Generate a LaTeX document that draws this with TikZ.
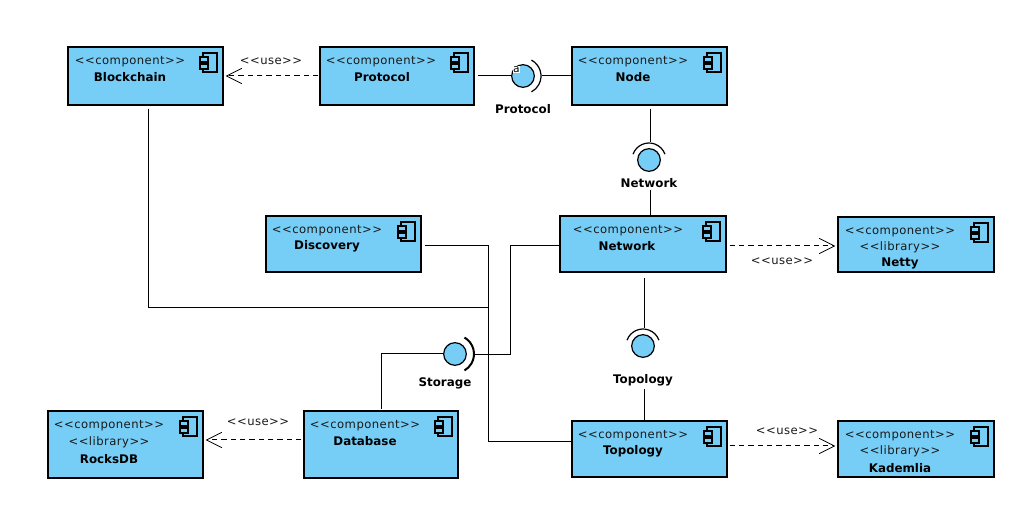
\documentclass[tikz,border=0pt]{standalone}
\usepackage{fontspec}
\setmainfont{DejaVu Sans}
\newfontfamily\stereofont[LetterSpace=4]{DejaVu Sans}
\usetikzlibrary{arrows.meta,calc}
\definecolor{compfill}{HTML}{76CDF6}
\newcommand\compbox[5]{%
  \node[compbox,minimum width={(#4-#2)*0.75pt},minimum height={(#5-#3)*0.75pt}] (#1) at ({(#2+#4)/2},{(#3+#5)/2}) {};
  \draw[line width=0.8pt] (#4-20,#3+6) rectangle (#4-6,#3+25);
  \draw[line width=0.8pt,fill=compfill] (#4-23,#3+10) rectangle (#4-15,#3+15);
  \draw[line width=0.8pt,fill=compfill] (#4-23,#3+17) rectangle (#4-15,#3+22);
}
\tikzset{
  x=0.75pt,y=-0.75pt,
  compbox/.style={draw=black,line width=0.9pt,fill=compfill,inner sep=0pt},
  stereo/.style={font=\stereofont\fontsize{8.7pt}{10pt}\selectfont,inner sep=0pt,text=black!90,yshift=-1pt},
  cname/.style={font=\fontsize{8.9pt}{10pt}\selectfont\bfseries,inner sep=0pt,yshift=-0.6pt},
  iface/.style={circle,draw=black,line width=0.9pt,fill=compfill,minimum size=17pt,inner sep=0pt},
  conn/.style={draw=black,line width=0.75pt},
  dep/.style={draw=black,line width=0.75pt,dash pattern=on 4pt off 3pt,-{Straight Barb[length=11.5pt,width=11.5pt,line width=0.6pt]}},
  socket/.style={draw=black,line width=0.9pt},
}
\begin{document}
\begin{tikzpicture}
\useasboundingbox (0,0) rectangle (1029,516);
\compbox{blockchain}{68}{47}{223}{105}
\compbox{protocol}{320}{47}{474}{105}
\compbox{nodeb}{572}{47}{727}{105}
\compbox{discovery}{266}{216}{421}{272}
\compbox{network}{560}{216}{726}{272}
\compbox{netty}{838}{217}{994}{272}
\compbox{rocksdb}{48}{411}{203}{478}
\compbox{database}{304}{411}{458}{478}
\compbox{topology}{572}{421}{727}{477}
\compbox{kademlia}{838}{421}{994}{477}
% box texts
\node[stereo] (t1a) at (130,60) {<<component>>};
\node[cname] (t1b) at (130,76) {Blockchain};
\node[stereo] (t2a) at (381,60) {<<component>>};
\node[cname] (t2b) at (382,76) {Protocol};
\node[stereo] (t3a) at (633,60) {<<component>>};
\node[cname] (t3b) at (633,76) {Node};
\node[stereo] (t4a) at (327,229) {<<component>>};
\node[cname] (t4b) at (327,245) {Discovery};
\node[stereo] (t5a) at (628,229) {<<component>>};
\node[cname] (t5b) at (627,245) {Network};
\node[stereo] (t6a) at (900,230) {<<component>>};
\node[stereo] (t6b) at (900,246) {<<library>>};
\node[cname] (t6c) at (900,263) {Netty};
\node[stereo] (t7a) at (109,424) {<<component>>};
\node[stereo] (t7b) at (109,441) {<<library>>};
\node[cname] (t7c) at (109,458) {RocksDB};
\node[stereo] (t8a) at (365,424) {<<component>>};
\node[cname] (t8b) at (365,440) {Database};
\node[stereo] (t9a) at (633,434) {<<component>>};
\node[cname] (t9b) at (633,450) {Topology};
\node[stereo] (t10a) at (900,434) {<<component>>};
\node[stereo] (t10b) at (900,450) {<<library>>};
\node[cname] (t10c) at (900,467) {Kademlia};
% interfaces
\node[iface] (ifprotocol) at (523,76) {};
\node[iface] (ifnetwork) at (649,160) {};
\node[iface] (iftopology) at (643,346) {};
\node[iface] (ifstorage) at (455,354) {};
\draw[socket] (523,76) ++(-62:18) arc[start angle=-62,end angle=62,radius=18];
\draw[socket] (649,160) ++(-160:17) arc[start angle=-160,end angle=-20,radius=17];
\draw[socket] (643,346) ++(-160:17) arc[start angle=-160,end angle=-20,radius=17];
\draw[socket,line width=1.5pt] (455,354) ++(-60:19) arc[start angle=-60,end angle=60,radius=19];
\node[fill=white,inner sep=0.5pt,font=\fontsize{8pt}{9pt}\selectfont] (aglyph) at (516.5,69.5) {a};
% interface labels
\node[cname] (lprotocol) at (523,108) {Protocol};
\node[cname] (lnetwork) at (649,182) {Network};
\node[cname] (ltopology) at (643,379) {Topology};
\node[cname] (lstorage) at (445,383) {Storage};
% connectors
\draw[conn] ([xshift=2.25pt]protocol.east) -- (ifprotocol.west);
\draw[conn] ([shift={(7,0)}]ifprotocol.east) -- (nodeb.west |- ifprotocol);
\draw[conn] ([shift={(1,3)}]nodeb.south -| ifnetwork) -- ([shift={(1,-6)}]ifnetwork.north);
\draw[conn] ([shift={(1,-25)}]network.north -| ifnetwork) -- ([xshift=0.75pt]network.north -| ifnetwork);
\draw[conn] ([shift={(1,5)}]network.south -| iftopology) -- ([shift={(1,-6)}]iftopology.north);
\draw[conn] ([shift={(1,-31)}]topology.north -| iftopology) -- ([xshift=0.75pt]topology.north -| iftopology);
\draw[conn] ([shift={(2.5,3)}]blockchain.south) |- (488,308) |- ([shift={(7,1)}]ifstorage.east);
\draw[conn] ([shift={(3,2)}]discovery.east) -| (488,355) -- ([shift={(7,1)}]ifstorage.east);
\draw[conn] ([shift={(0,-7)}]topology.west) -| (488,355) -- ([shift={(7,1)}]ifstorage.east);
\draw[conn] ([shift={(0,2)}]network.west) -| (510,355) -- ([shift={(7,1)}]ifstorage.east);
\draw[conn] (ifstorage.west) -| ([shift={(78,-1)}]database.north west);
% dependencies
\draw[dep] ([xshift=-0.75pt]protocol.west) -- ([xshift=1.5pt]blockchain.east);
\draw[dep] ([xshift=-1.5pt]database.west |- 0,440) -- ([xshift=1.5pt]rocksdb.east |- 0,440);
\draw[dep] ([shift={(3,2)}]network.east) -- ([xshift=-1.5pt]netty.west |- 0,246);
\draw[dep] ([xshift=1.5pt]topology.east |- 0,446) -- ([xshift=-1.5pt]kademlia.west |- 0,446);
\node[stereo] (u1) at (271,60) {<<use>>};
\node[stereo] (u2) at (782,260) {<<use>>};
\node[stereo] (u3) at (258,421) {<<use>>};
\node[stereo] (u4) at (787,430) {<<use>>};
\end{tikzpicture}
\end{document}
